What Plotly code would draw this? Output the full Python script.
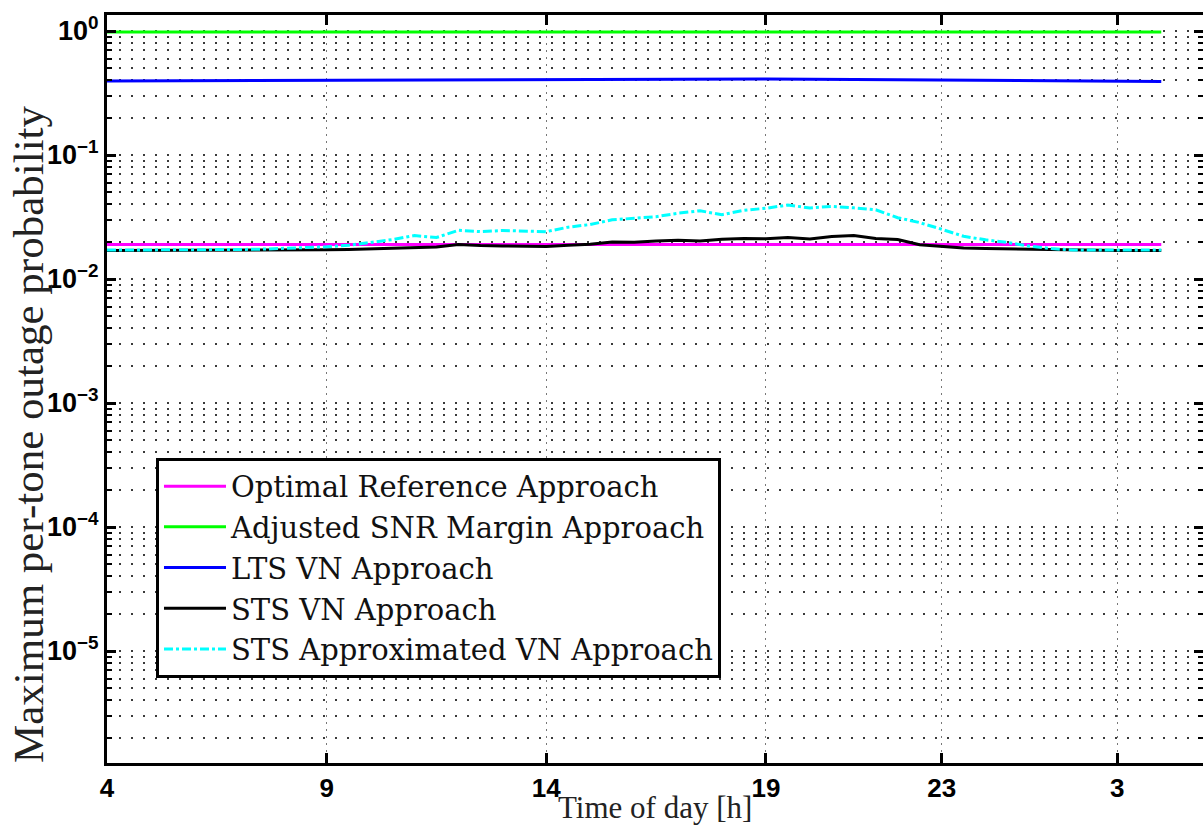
import plotly.graph_objects as go

# Time axis (hours, next-day hours continue past 24)
hours_fine = [4.0, 4.5, 5.0, 5.5, 6.0, 6.5, 7.0, 7.5, 8.0, 8.5, 9.0, 9.5,
              10.0, 10.5, 11.0, 11.5, 12.0, 12.5, 13.0, 13.5, 14.0, 14.5,
              15.0, 15.5, 16.0, 16.5, 17.0, 17.5, 18.0, 18.5, 19.0, 19.5,
              20.0, 20.5, 21.0, 21.5, 22.0, 22.5, 23.0, 23.5, 24.0, 24.5,
              25.0, 25.5, 26.0, 26.5, 27.0, 27.5, 28.0]

# Optimal reference approach
optimal_hours = [4.0, 28.0]
optimal_p = [0.019, 0.019]

# Adjusted SNR margin approach
adjusted_hours = [4.0, 28.0]
adjusted_p = [0.98, 0.98]

# LTS VN approach
lts_hours = [4.0, 8.0, 12.0, 16.0, 19.0, 22.0, 25.0, 28.0]
lts_p = [0.395, 0.398, 0.403, 0.408, 0.410, 0.404, 0.396, 0.392]

# STS VN approach
sts_p = [0.0170, 0.0170, 0.0170, 0.0170, 0.0170, 0.0170, 0.0171, 0.0171,
         0.0171, 0.0172, 0.0172, 0.0173, 0.0175, 0.0178, 0.0180, 0.0181,
         0.0190, 0.0186, 0.0185, 0.0183, 0.0183, 0.0187, 0.0191, 0.0199,
         0.0198, 0.0203, 0.0205, 0.0203, 0.0209, 0.0212, 0.0211, 0.0216,
         0.0210, 0.0220, 0.0224, 0.0212, 0.0208, 0.0189, 0.0183, 0.0178,
         0.0176, 0.0175, 0.0173, 0.0171, 0.0170, 0.0170, 0.0170, 0.0170,
         0.0170]

# STS approximated VN approach
sts_approx_p = [0.0171, 0.0171, 0.0171, 0.0171, 0.0172, 0.0172, 0.0173, 0.0174,
                0.0176, 0.0178, 0.0182, 0.0187, 0.0196, 0.0208, 0.0224, 0.0216,
                0.0247, 0.0241, 0.0246, 0.0243, 0.0241, 0.0262, 0.0275, 0.0300,
                0.0309, 0.0318, 0.0339, 0.0355, 0.0330, 0.0358, 0.0372, 0.0395,
                0.0374, 0.0385, 0.0375, 0.0362, 0.0312, 0.0285, 0.0252, 0.0221,
                0.0207, 0.0197, 0.0184, 0.0176, 0.0171, 0.0171, 0.0171, 0.0171,
                0.0171]

x_tick_vals = [4, 9, 14, 19, 23, 27]
x_tick_text = ["4", "9", "14", "19", "23", "3"]
y_tick_vals = [1e-5, 1e-4, 1e-3, 1e-2, 1e-1, 1]
y_tick_text = ["10<sup>−5</sup>", "10<sup>−4</sup>", "10<sup>−3</sup>",
               "10<sup>−2</sup>", "10<sup>−1</sup>", "10<sup>0</sup>"]
y_minor_vals = [k * 10.0 ** e for e in range(-6, 0) for k in range(2, 10)]

SERIF = "Liberation Serif, Times New Roman, serif"
LEGEND_SERIF = "DejaVu Serif, serif"
SANS = "Liberation Sans, Arial, sans-serif"

fig = go.Figure()
fig.add_trace(go.Scatter(x=optimal_hours, y=optimal_p, mode="lines",
                         name="Optimal Reference Approach",
                         line=dict(color="#ff00ff", width=3)))
# drawn against the right-hand (tick-only) copy of the log axis
fig.add_trace(go.Scatter(x=adjusted_hours, y=adjusted_p, mode="lines", yaxis="y2",
                         name="Adjusted SNR Margin Approach",
                         line=dict(color="#00ff00", width=3)))
fig.add_trace(go.Scatter(x=lts_hours, y=lts_p, mode="lines",
                         name="LTS VN Approach",
                         line=dict(color="#0000ff", width=3)))
fig.add_trace(go.Scatter(x=hours_fine, y=sts_p, mode="lines",
                         name="STS VN Approach",
                         line=dict(color="#000000", width=3)))
fig.add_trace(go.Scatter(x=hours_fine, y=sts_approx_p, mode="lines",
                         name="STS Approximated VN Approach",
                         line=dict(color="#00ffff", width=3, dash="dashdot")))

y_range = [-5.903, 0.129]
GRID = "#3a3a3a"

fig.update_layout(
    width=1203, height=829,
    margin=dict(l=107, r=0, t=15, b=66),
    paper_bgcolor="white", plot_bgcolor="white",
    showlegend=True,
    legend=dict(
        x=0.0447, y=0.408, xanchor="left", yanchor="top",
        bgcolor="white", bordercolor="black", borderwidth=3,
        font=dict(family=LEGEND_SERIF, size=29, color="#111111"),
        itemwidth=62, tracegroupgap=0,
    ),
    xaxis=dict(
        range=[4, 28.95], tickmode="array", tickvals=x_tick_vals, ticktext=x_tick_text,
        ticks="inside", ticklen=10, tickwidth=3, tickcolor="black",
        showline=True, linecolor="black", linewidth=3, mirror="ticks",
        showgrid=True, gridcolor="#777777", gridwidth=1, griddash="2px,5px",
        zeroline=False,
        tickfont=dict(family=SANS, size=26, color="black", weight="bold"),
    ),
    yaxis=dict(
        type="log", range=y_range, tickmode="array", tickvals=y_tick_vals, ticktext=y_tick_text,
        ticks="inside", ticklen=9, tickwidth=3, tickcolor="black",
        showline=True, linecolor="black", linewidth=3,
        showgrid=True, gridcolor=GRID, gridwidth=2, griddash="2px,10px",
        zeroline=False,
        tickfont=dict(family=SANS, size=27, color="black", weight="bold"),
        minor=dict(tickvals=y_minor_vals, ticks="inside", ticklen=5, tickwidth=2,
                   tickcolor="black", showgrid=True, gridcolor=GRID,
                   gridwidth=2, griddash="2px,10px"),
    ),
    yaxis2=dict(
        type="log", range=y_range, overlaying="y", side="right", anchor="x",
        tickmode="array", tickvals=y_tick_vals, showticklabels=False,
        ticks="inside", ticklen=9, tickwidth=3, tickcolor="black",
        showline=False, showgrid=False, zeroline=False,
        minor=dict(tickvals=y_minor_vals, ticks="inside", ticklen=5, tickwidth=2,
                   tickcolor="black", showgrid=False),
    ),
)

fig.add_annotation(text="Time of day [h]", xref="paper", yref="paper",
                   x=0.5, y=-0.086, xanchor="center", yanchor="bottom",
                   showarrow=False, font=dict(family=SERIF, size=31, color="#222222"))
fig.add_annotation(text="Maximum per-tone outage probability", xref="paper", yref="paper",
                   x=-0.071, y=0.44, xanchor="center", yanchor="middle", textangle=-90,
                   showarrow=False, font=dict(family=SERIF, size=43, color="#222222"))

fig.write_html("out.html")
